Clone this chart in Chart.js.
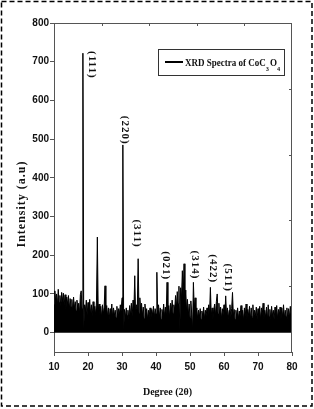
<!DOCTYPE html>
<html>
<head>
<meta charset="utf-8">
<script src="https://cdn.jsdelivr.net/npm/chart.js@4.4.1/dist/chart.umd.min.js"></script>
<style>
  html, body { margin: 0; padding: 0; background: #fff; }
  canvas { display: block; }
</style>
</head>
<body>
<canvas id="xrd" width="314" height="409"></canvas>
<script>
// 2-theta sampling of the scan (degrees)
const twoThetaStart = 10;
const twoThetaStep = 0.25;

// intensity (a.u.), one value per step
const intensity = [
  72, 108, 80, 100, 70, 112, 78, 96, 68, 104, 82, 102, 72, 98, 62, 92, 74, 96, 60, 88,
  66, 86, 55, 92, 64, 80, 56, 84, 60, 76, 50, 98, 108, 62, 722, 8, 72, 58, 84, 46,
  78, 52, 86, 48, 72, 42, 80, 54, 68, 46, 82, 247, 58, 74, 44, 68, 40, 72, 48, 66,
  121, 52, 70, 42, 64, 36, 62, 46, 74, 40, 64, 44, 58, 38, 68, 42, 62, 48, 72, 55,
  90, 485, 6, 60, 40, 64, 44, 58, 36, 70, 46, 76, 42, 84, 58, 147, 48, 72, 62, 191,
  50, 90, 58, 76, 44, 66, 36, 74, 48, 62, 34, 58, 42, 64, 36, 60, 46, 68, 40, 62,
  48, 156, 44, 72, 40, 64, 34, 60, 44, 74, 42, 66, 48, 130, 46, 70, 40, 76, 54, 84,
  50, 72, 58, 96, 64, 106, 74, 120, 5, 116, 88, 160, 96, 178, 72, 110, 54, 86, 44, 74,
  40, 82, 48, 6, 130, 62, 90, 44, 64, 36, 58, 40, 62, 34, 56, 42, 66, 36, 58, 44,
  64, 40, 72, 48, 117, 44, 64, 36, 60, 74, 44, 80, 100, 48, 76, 42, 66, 36, 62, 46,
  72, 42, 95, 44, 64, 36, 58, 72, 40, 62, 104, 44, 60, 34, 58, 40, 64, 36, 56, 44,
  70, 38, 58, 32, 64, 42, 74, 36, 60, 44, 68, 34, 64, 40, 72, 38, 58, 44, 66, 36,
  62, 40, 68, 34, 64, 46, 76, 36, 58, 40, 66, 32, 72, 42, 60, 36, 68, 44, 58, 34,
  66, 40, 70, 36, 60, 44, 66, 34, 64, 40, 72, 38, 58, 42, 64, 36, 62, 40, 68, 44,
  55
];

// peak indexing labels and where they sit (2-theta, intensity at label centre)
const hklLabels = ['(111)', '(220)', '(311)', '(021)', '(314)', '(422)', '(511)'];
const hklTwoTheta = [21.0, 30.9, 34.4, 42.95, 51.3, 56.7, 61.15];
const hklIntensity = [692, 523, 256, 173, 175, 165, 142];

const xTicks = [10, 20, 30, 40, 50, 60, 70, 80];
const yTicks = [0, 100, 200, 300, 400, 500, 600, 700, 800];

const serif = "'Liberation Serif', 'Times New Roman', serif";
const tickFont = "'Liberation Sans Narrow', 'Liberation Sans', Arial, sans-serif";

const points = intensity.map((v, i) => ({ x: twoThetaStart + i * twoThetaStep, y: v }));

const decor = {
  id: 'decor',
  afterDraw(chart) {
    const ctx = chart.ctx;
    const a = chart.chartArea;
    const xs = chart.scales.x, ys = chart.scales.y;
    ctx.save();

    // top and right frame with inward ticks
    ctx.strokeStyle = '#555';
    ctx.lineWidth = 1;
    ctx.beginPath();
    ctx.moveTo(a.left, a.top + 0.5); ctx.lineTo(a.right, a.top + 0.5);
    ctx.moveTo(a.right - 0.5, a.top); ctx.lineTo(a.right - 0.5, a.bottom);
    for (let k = 1; k < 5; k++) {
      const px = Math.round(a.left + (a.right - a.left) * k / 5) + 0.5;
      ctx.moveTo(px, a.top); ctx.lineTo(px, a.top + 3);
      const py = Math.round(a.top + (a.bottom - a.top) * k / 5) + 0.5;
      ctx.moveTo(a.right, py); ctx.lineTo(a.right - 3, py);
    }
    ctx.stroke();

    // hkl labels, rotated
    ctx.fillStyle = '#111';
    ctx.font = 'bold 11px ' + serif;
    ctx.textAlign = 'center';
    ctx.textBaseline = 'middle';
    hklLabels.forEach((t, i) => {
      ctx.save();
      ctx.translate(xs.getPixelForValue(hklTwoTheta[i]), ys.getPixelForValue(hklIntensity[i]));
      ctx.rotate(Math.PI / 2);
      ctx.letterSpacing = '1px';
      ctx.fillText(t, 0, 0);
      ctx.restore();
    });

    // legend box
    ctx.strokeStyle = '#333';
    ctx.lineWidth = 1;
    ctx.strokeRect(158.5, 49.5, 126, 26);
    ctx.strokeStyle = '#000';
    ctx.lineWidth = 2;
    ctx.beginPath();
    ctx.moveTo(165, 62); ctx.lineTo(183, 62);
    ctx.stroke();
    ctx.textAlign = 'left';
    ctx.textBaseline = 'alphabetic';
    const parts = [['XRD Spectra of CoC', 0], ['3', 1], ['O', 0], ['4', 1]];
    let total = 0;
    parts.forEach(([t, sub]) => {
      ctx.font = sub ? 'bold 7px ' + serif : 'bold 10px ' + serif;
      total += ctx.measureText(t).width + (sub ? 1 : 0);
    });
    const sx = 96 / total;
    ctx.save();
    ctx.translate(185, 0);
    ctx.scale(sx, 1);
    let lx = 0;
    parts.forEach(([t, sub]) => {
      ctx.font = sub ? 'bold 7px ' + serif : 'bold 10px ' + serif;
      ctx.fillText(t, lx, sub ? 71 : 66);
      lx += ctx.measureText(t).width + (sub ? 1 : 0);
    });
    ctx.restore();

    // axis titles
    ctx.font = 'bold 12px ' + serif;
    ctx.textAlign = 'center';
    ctx.textBaseline = 'middle';
    ctx.save();
    ctx.translate(22, 204);
    ctx.rotate(-Math.PI / 2);
    ctx.letterSpacing = '1px';
    ctx.fillText('Intensity (a.u)', 0, 0);
    ctx.restore();
    ctx.font = 'bold 10px ' + serif;
    ctx.fillText('Degree (2θ)', 167.5, 392);

    // dashed outer border
    ctx.strokeStyle = '#000';
    ctx.lineWidth = 1.5;
    ctx.setLineDash([5, 3]);
    ctx.strokeRect(1.5, 1.5, 310.5, 404.5);
    ctx.restore();
  }
};

new Chart(document.getElementById('xrd'), {
  type: 'line',
  data: {
    datasets: [{
      label: 'XRD Spectra of CoC3O4',
      data: points,
      borderColor: '#000',
      backgroundColor: '#000',
      borderWidth: 1,
      pointRadius: 0,
      tension: 0,
      fill: 'origin'
    }]
  },
  options: {
    responsive: false,
    animation: false,
    layout: { padding: { top: 23, right: 22, left: 0, bottom: 0 } },
    plugins: { legend: { display: false }, tooltip: { enabled: false } },
    scales: {
      x: {
        type: 'linear',
        min: 10, max: 80,
        afterFit: (s) => { s.height = 57; },
        afterBuildTicks: (s) => { s.ticks = xTicks.map(v => ({ value: v })); },
        grid: { drawOnChartArea: false, tickLength: 4, color: '#555' },
        border: { color: '#555' },
        ticks: { color: '#111', padding: 5, maxRotation: 0, font: { family: tickFont, size: 10, weight: 'bold' } }
      },
      y: {
        min: -50, max: 800,
        afterFit: (s) => { s.width = 54; },
        afterBuildTicks: (s) => { s.ticks = yTicks.map(v => ({ value: v })); },
        grid: { drawOnChartArea: false, tickLength: 4, color: '#555' },
        border: { color: '#555' },
        ticks: { color: '#111', padding: 1, font: { family: tickFont, size: 10, weight: 'bold' } }
      }
    }
  },
  plugins: [decor]
});
</script>
</body>
</html>
